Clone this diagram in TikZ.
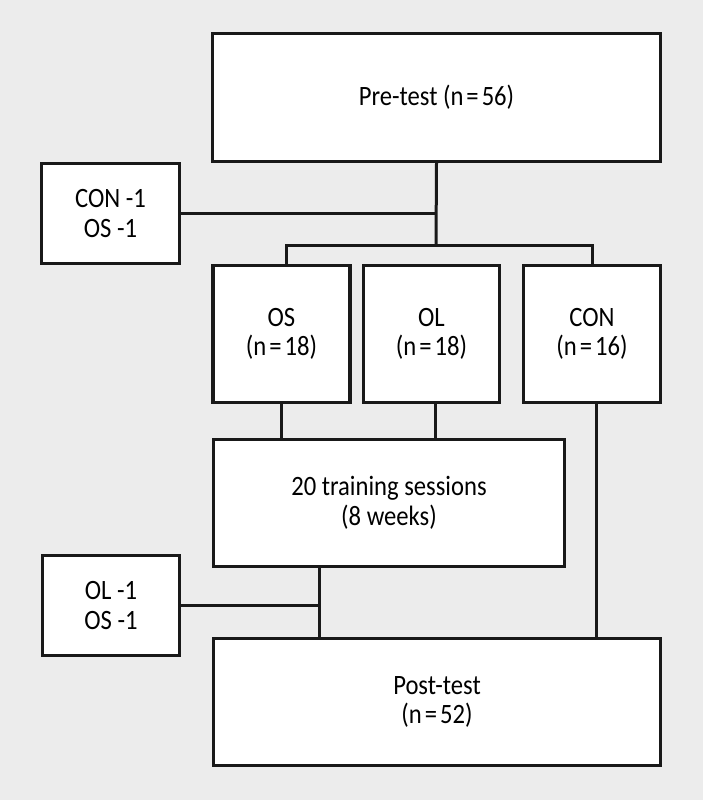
\documentclass[tikz,border=0pt]{standalone}
\usepackage{fontspec}
\setmainfont{Carlito}[FakeStretch=0.88]
\definecolor{bg}{HTML}{ECECEC}
\newcommand{\eqq}{\kern3pt=\kern3pt}
\begin{document}
\begin{tikzpicture}[x=1pt,y=-1pt,
  box/.style={draw=black!90,line width=3.3pt,fill=white,align=center,inner sep=0pt,
    font=\fontsize{28}{29.5}\selectfont},
  conn/.style={draw=black!90,line width=3pt}]
\fill[bg] (0,0) rectangle (703,800);
\useasboundingbox (0,0) rectangle (703,800);
\node[box,minimum width=448,minimum height=128] (pre) at (436.5,97.5) {Pre-test (n\eqq56)};
\node[box,minimum width=138,minimum height=100] (d1) at (110.5,213.5) {CON -1\\OS -1};
\node[box,minimum width=137,minimum height=137] (os) at (281.5,334) {OS\\(n\eqq18)};
\node[box,minimum width=136,minimum height=137] (ol) at (431.5,334) {OL\\(n\eqq18)};
\node[box,minimum width=137,minimum height=137] (con) at (592,334) {CON\\(n\eqq16)};
\node[box,minimum width=351,minimum height=127] (tr) at (389,503) {20 training sessions\\(8 weeks)};
\node[box,minimum width=137,minimum height=100] (d2) at (111,605.5) {OL -1\\OS -1};
\node[box,minimum width=447,minimum height=127] (post) at (437,702) {Post-test\\(n\eqq52)};
\coordinate (br) at (436,245);
\coordinate (bl) at (286,245);
\coordinate (brr) at (592,245);
\coordinate (tt) at (319,568);
\draw[conn] (pre.south) -- (br);
\draw[conn] (d1.east) -- (d1.east -| br);
\draw[conn] (bl |- os.north) -- (bl) -- (brr) -- (con.north);
\draw[conn] (os.south) -- (os.south |- tr.north);
\draw[conn] ([xshift=3.5]ol.south) -- ([xshift=3.5]ol.south |- tr.north);
\draw[conn] ([xshift=4]con.south) -- ([xshift=4]con.south |- post.north);
\draw[conn] (tt |- tr.south) -- (tt |- post.north);
\draw[conn] (d2.east) -- (d2.east -| tt);
\end{tikzpicture}
\end{document}
